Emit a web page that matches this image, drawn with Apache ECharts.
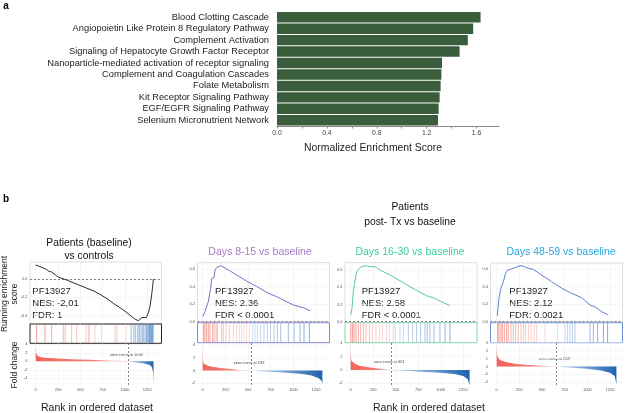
<!DOCTYPE html>
<html><head><meta charset="utf-8">
<script src="https://cdn.jsdelivr.net/npm/echarts@6/dist/echarts.min.js"></script>
<style>html,body{margin:0;padding:0;background:#fff}#c{width:625px;height:413px}</style>
</head><body><div id="c"></div>
<script>
// ---------- panel a data ----------
const pathways = ['Blood Clotting Cascade','Angiopoietin Like Protein 8 Regulatory Pathway','Complement Activation','Signaling of Hepatocyte Growth Factor Receptor','Nanoparticle-mediated activation of receptor signaling','Complement and Coagulation Cascades','Folate Metabolism','Kit Receptor Signaling Pathway','EGF/EGFR Signaling Pathway','Selenium Micronutrient Network'];
const nesValues = [1.632,1.573,1.530,1.464,1.323,1.318,1.312,1.304,1.296,1.291];

// ---------- panel b data ----------
const panelTitles = ['Patients (baseline)\nvs controls','Days 8-15 vs baseline','Days 16-30 vs baseline','Days 48-59 vs baseline'];
const geneSet = 'PF13927';
const nesText = ['NES: -2,01','NES: 2.36','NES: 2.58','NES: 2.12'];
const fdrText = ['FDR: 1','FDR < 0.0001','FDR < 0.0001','FDR: 0.0021'];
const zeroCross = [1039,533,451,658];
const rankTicks = [0,250,500,750,1000,1250];
const esTicks1 = [-0.4,-0.2,0.0];
const esTicks2 = [0.0,0.2,0.4,0.6];
const fcTicks1 = [-4,-2,0,2,4];
const fcTicks2 = [-2,0,2,4];
const fcTicks4 = [-2,-1,0,1,2,3];

const es1 = [[0,0.153],[60,0.13],[120,0.105],[150,0.082],[160,0.095],[175,0.078],[253,0.02],[347,-0.011],[430,-0.045],[449,-0.035],[470,-0.06],[571,-0.10],[650,-0.13],[720,-0.167],[800,-0.215],[869,-0.265],[944,-0.312],[1000,-0.35],[1056,-0.395],[1110,-0.435],[1150,-0.455],[1170,-0.45],[1190,-0.42],[1240,-0.42],[1261,-0.37],[1280,-0.3],[1299,-0.17],[1310,-0.08],[1318,0.0]];
const es2 = [[0,0.057],[25,0.114],[62,0.227],[88,0.38],[95,0.40],[99,0.49],[125,0.50],[136,0.587],[154,0.614],[198,0.636],[264,0.60],[375,0.53],[485,0.462],[595,0.40],[706,0.333],[816,0.284],[926,0.227],[1000,0.19],[1007,0.2],[1020,0.188],[1109,0.159],[1183,0.125]];
const es3 = [[0,0.078],[15,0.155],[29,0.349],[48,0.485],[67,0.58],[95,0.62],[122,0.64],[170,0.651],[214,0.64],[270,0.64],[325,0.60],[436,0.543],[547,0.477],[658,0.407],[769,0.342],[843,0.302],[917,0.279],[991,0.24],[1046,0.214],[1102,0.186]];
const es4 = [[7,0.068],[25,0.266],[47,0.38],[73,0.455],[99,0.55],[121,0.587],[165,0.6],[202,0.614],[257,0.636],[294,0.63],[349,0.606],[404,0.595],[496,0.53],[606,0.455],[717,0.38],[827,0.322],[937,0.273],[1029,0.19],[1084,0.17],[1158,0.114],[1231,0.076]];

const hits1 = [11,104,179,309,330,403,459,563,589,600,664,739,888,900,914,1011,1065,1075,1094,1110,1120,1140,1155,1165,1180,1195,1210,1225,1240,1250,1265,1275,1285,1295,1305,1315];
const hits2 = [7,25,44,62,80,110,125,147,161,209,227,257,294,338,375,404,430,455,485,514,551,577,602,639,676,713,749,786,823,860,944,1007,1073,1117,1176];
const hits3 = [2,22,37,59,85,111,140,170,207,244,281,318,355,399,429,473,495,547,584,640,688,732,777,825,850,880,925,991,1047,1102];
const hits4 = [11,25,47,62,84,110,128,158,183,209,238,268,294,319,349,378,415,441,533,672,753,782,808,834,863,1029,1065,1113,1176,1223];

const fc1 = [[0,4.1],[3,2.0],[8,1.6],[20,1.3],[50,1.0],[100,0.85],[200,0.7],[400,0.5],[600,0.35],[800,0.2],[1000,0.05],[1039,0],[1100,-0.2],[1200,-0.45],[1270,-0.8],[1300,-1.3],[1315,-2.5],[1320,-5.2]];
const fc2 = [[0,4.0],[3,1.8],[8,1.1],[20,0.95],[50,0.8],[100,0.6],[200,0.38],[300,0.22],[400,0.1],[533,0],[700,-0.15],[900,-0.3],[1100,-0.55],[1200,-0.8],[1280,-1.2],[1310,-1.6],[1320,-2.2]];
const fc3 = [[0,4.1],[3,2.2],[8,1.4],[20,1.15],[50,0.9],[100,0.65],[200,0.4],[300,0.22],[400,0.08],[451,0],[600,-0.1],[800,-0.25],[1000,-0.4],[1150,-0.6],[1250,-0.9],[1300,-1.4],[1320,-2.3]];
const fc4 = [[0,3.0],[3,1.8],[8,1.3],[20,1.0],[50,0.75],[100,0.55],[200,0.35],[350,0.2],[500,0.08],[658,0],[800,-0.12],[1000,-0.3],[1150,-0.5],[1250,-0.8],[1300,-1.2],[1320,-2.2]];

const esData = [es1,es2,es3,es4];
const hitData = [hits1,hits2,hits3,hits4];
const fcData = [fc1,fc2,fc3,fc4];
const esTicks = [esTicks1,esTicks2,esTicks2,esTicks2];
const fcTicks = [fcTicks1,fcTicks2,fcTicks2,fcTicks4];

// ---------- layout & style ----------
const FONT = '"Liberation Sans", Arial, Helvetica, sans-serif';
const layout = [
  {left:30,    width:131.5, esTop:262,   esBot:324,   hitBot:343.3, fcBot:385, xr:[-64,1409], esr:[-0.49,0.185],  fcr:[-5.58,4.24], zy:355,   txtX:32.3},
  {left:197.5, width:132,   esTop:262.7, esBot:322.7, hitBot:342.7, fcBot:385, xr:[-57,1398], esr:[-0.011,0.67], fcr:[-2.27,4.36], zy:363.3, txtX:215},
  {left:345,   width:132,   esTop:262.7, esBot:322.7, hitBot:342.7, fcBot:385, xr:[-63,1402], esr:[-0.012,0.686],fcr:[-2.25,4.1],  zy:362.3, txtX:361.7},
  {left:490.5, width:132,   esTop:263,   esBot:322.7, hitBot:342.7, fcBot:385, xr:[-68,1387], esr:[-0.011,0.667],fcr:[-2.34,3.0],  zy:359,   txtX:509.3}
];
const lineColors = ['#2b2b2b','#7b6fc6','#5cc99b','#5b84d3'];
const titleColors = ['#111111','#a67bc6','#3ccf96','#2aa6e0'];
const hitBorder = ['#222222','#8d85d6','#7fd9b3','#6f93da'];
const GRIDC = '#ececec';

const grids = [{left:277, width:222, top:11.5, height:114.5, outerBoundsMode:'none'}];
const xAxes = [{
  gridIndex:0, type:'value', min:0, max:1.78, interval:0.2,
  axisLine:{show:true, lineStyle:{color:'#8a8a8a', width:1}},
  axisTick:{show:true, length:2.5, lineStyle:{color:'#8a8a8a'}},
  axisLabel:{showMaxLabel:false, fontSize:6.8, color:'#444', margin:4, fontFamily:FONT,
    formatter:v => (Math.round(v*10) % 4 === 0 ? v.toFixed(1) : '')},
  splitLine:{show:false}
}];
const yAxes = [{
  gridIndex:0, type:'category', data:pathways, inverse:true,
  axisLine:{show:false}, axisTick:{show:false},
  axisLabel:{interval:0, fontSize:9.3, color:'#222', margin:8, fontFamily:FONT}
}];
const series = [{
  type:'bar', xAxisIndex:0, yAxisIndex:0, data:nesValues, barCategoryGap:'9%',
  itemStyle:{color:'#3a5d3b'}, silent:true
}];

const graphics = [];
function txt(text, x, y, size, color, opts) {
  opts = opts || {};
  graphics.push({
    type:'text', x:x, y:y, rotation:opts.rot || 0, silent:true,
    style:{text:text, x:0, y:0, fill:color, fontSize:size, fontFamily:FONT, fontWeight:opts.bold?'bold':'normal',
      align:opts.align||'center', verticalAlign:'middle', textAlign:opts.align||'center', textVerticalAlign:'middle',
      lineHeight:opts.lh || size*1.25}
  });
}

function hitColor(r, zc) {
  if (r < zc) {
    const t = 1 - r / zc;
    const a = 0.3 + 0.55 * t * t;
    return 'rgba(236,84,72,' + a.toFixed(2) + ')';
  }
  const t = (r - zc) / (1330 - zc);
  const a = 0.3 + 0.6 * t;
  return 'rgba(44,110,185,' + a.toFixed(2) + ')';
}

layout.forEach((L, p) => {
  const gi = grids.length;
  grids.push({left:L.left, width:L.width, top:L.esTop, height:L.esBot-L.esTop, show:true, borderColor:'#d6d6d6', borderWidth:0.8, outerBoundsMode:'none'});
  grids.push({left:L.left, width:L.width, top:L.esBot, height:L.hitBot-L.esBot, show:true, borderColor:hitBorder[p], borderWidth:1, backgroundColor:'#fff', outerBoundsMode:'none'});
  grids.push({left:L.left, width:L.width, top:L.hitBot, height:L.fcBot-L.hitBot, outerBoundsMode:'none'});
  // ES axes
  xAxes.push({gridIndex:gi, type:'value', min:L.xr[0], max:L.xr[1],
    axisLine:{show:false}, axisTick:{show:false, customValues:rankTicks},
    axisLabel:{show:false, customValues:rankTicks}, splitLine:{show:true, lineStyle:{color:GRIDC, width:0.5}}});
  yAxes.push({gridIndex:gi, type:'value', min:L.esr[0], max:L.esr[1],
    axisLine:{show:false}, axisTick:{show:false, customValues:esTicks[p]},
    axisLabel:{customValues:esTicks[p], fontSize:4, color:'#555', margin:2.5, fontFamily:FONT, formatter:v=>v.toFixed(1)},
    splitLine:{show:true, lineStyle:{color:GRIDC, width:0.5}}});
  // hit axes
  xAxes.push({gridIndex:gi+1, type:'value', min:L.xr[0], max:L.xr[1], show:false});
  yAxes.push({gridIndex:gi+1, type:'value', min:0, max:1, show:false});
  // FC axes
  xAxes.push({gridIndex:gi+2, type:'value', min:L.xr[0], max:L.xr[1],
    axisLine:{show:false}, axisTick:{show:false, customValues:rankTicks},
    axisLabel:{customValues:rankTicks, fontSize:4, color:'#555', margin:3, fontFamily:FONT, formatter:v=>String(v)},
    splitLine:{show:true, lineStyle:{color:GRIDC, width:0.5}}});
  yAxes.push({gridIndex:gi+2, type:'value', min:L.fcr[0], max:L.fcr[1],
    axisLine:{show:false}, axisTick:{show:false, customValues:fcTicks[p]},
    axisLabel:{customValues:fcTicks[p], fontSize:4, color:'#555', margin:2.5, fontFamily:FONT, formatter:v=>String(v)},
    splitLine:{show:true, lineStyle:{color:GRIDC, width:0.5}}});

  series.push({type:'line', xAxisIndex:gi, yAxisIndex:gi, data:esData[p], showSymbol:false, silent:true,
    lineStyle:{color:lineColors[p], width:1}, z:5,
    markLine:{silent:true, symbol:'none', label:{show:false},
      lineStyle:{color:'#555', type:[2,2], width:0.7}, data:[{yAxis:0}]}});
  series.push({type:'scatter', xAxisIndex:gi+1, yAxisIndex:gi+1, silent:true, symbol:'rect',
    symbolSize:[0.9, L.hitBot-L.esBot-1],
    data:hitData[p].map(r => ({value:[r,0.5], itemStyle:{color:hitColor(r, zeroCross[p])}}))});
  const zc = zeroCross[p];
  series.push({type:'line', xAxisIndex:gi+2, yAxisIndex:gi+2, silent:true, showSymbol:false,
    data:fcData[p].filter(d => d[0] <= zc), lineStyle:{width:0},
    areaStyle:{opacity:1, color:new echarts.graphic.LinearGradient(0,0,1,0,[{offset:0,color:'#f1635a'},{offset:0.6,color:'#f37d72'},{offset:1,color:'#f8c4bb'}])}});
  series.push({type:'line', xAxisIndex:gi+2, yAxisIndex:gi+2, silent:true, showSymbol:false,
    data:fcData[p].filter(d => d[0] >= zc), lineStyle:{width:0},
    areaStyle:{opacity:1, color:new echarts.graphic.LinearGradient(0,0,1,0,[{offset:0,color:'#c3d6ee'},{offset:0.5,color:'#6f9dd3'},{offset:1,color:'#1f63ae'}])},
    markLine:{silent:true, symbol:'none', label:{show:false},
      lineStyle:{color:'#555', type:[2,2], width:0.7}, data:[{xAxis:zc}]}});

  // texts
  const zx = L.left + (zc - L.xr[0]) / (L.xr[1] - L.xr[0]) * L.width;
  txt('zero cross at ' + zc, zx - 2, L.zy, 4, '#444');
  txt(geneSet, L.txtX, 291, 9.5, '#222', {align:'left'});
  txt(nesText[p], L.txtX, 303.3, 9.5, '#222', {align:'left'});
  txt(fdrText[p], L.txtX, 315.6, 9.5, '#222', {align:'left'});
});

// titles & labels
txt('a', 6, 6, 10, '#000', {bold:true});
txt('b', 6, 199, 10, '#000', {bold:true});
txt('Normalized Enrichment Score', 373, 148, 10.4, '#222');
txt(panelTitles[0], 89, 249.5, 10.3, titleColors[0], {lh:13});
txt(panelTitles[1], 260, 252.3, 10.5, titleColors[1]);
txt(panelTitles[2], 410, 252.3, 10.5, titleColors[2]);
txt(panelTitles[3], 561, 252.3, 10.5, titleColors[3]);
txt('Patients\npost- Tx vs baseline', 410, 214.5, 10.3, '#111', {lh:14.5});
txt('Running enrichment\nscore', 10, 294, 8.5, '#222', {rot:Math.PI/2, lh:10});
txt('Fold change', 15, 365, 8.5, '#222', {rot:Math.PI/2});
txt('Rank in ordered dataset', 97, 408, 10.5, '#222');
txt('Rank in ordered dataset', 429, 408, 10.5, '#222');

const chart = echarts.init(document.getElementById('c'), null, {renderer:'canvas'});
chart.setOption({
  animation:false,
  backgroundColor:'#fff',
  textStyle:{fontFamily:FONT},
  grid:grids, xAxis:xAxes, yAxis:yAxes, series:series, graphic:graphics
});
</script></body></html>
